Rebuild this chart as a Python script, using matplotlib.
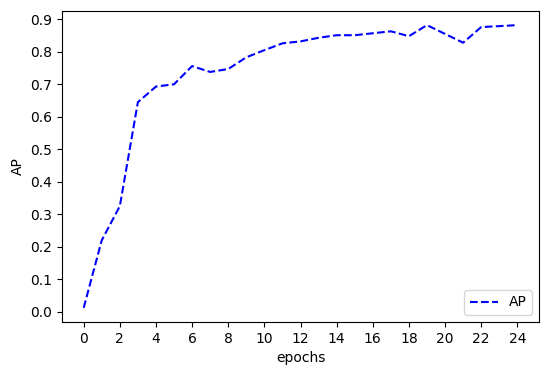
import numpy as np
import matplotlib
matplotlib.use('Agg')
import matplotlib.pyplot as plt

# AP per epoch
epochs = list(range(25))
ap = [0.012, 0.22, 0.325, 0.645, 0.693, 0.70, 0.756, 0.738, 0.747, 0.783,
      0.805, 0.826, 0.832, 0.843, 0.851, 0.851, 0.857, 0.863, 0.848, 0.882,
      0.855, 0.828, 0.876, 0.879, 0.882]
xticks = list(range(0, 25, 2))

fig = plt.figure(figsize=(5.5, 3.72), dpi=100)
ax = fig.add_axes([62/550, 1 - 322/372, 477/550, 311/372])

ax.plot(epochs, ap, 'b--', label='AP')
ax.set_xticks(xticks)
ax.set_yticks(np.arange(0, 0.91, 0.1))
ax.set_xlabel('epochs')
ax.set_ylabel('AP')
ax.legend(loc='lower right')

fig.savefig('out.png', dpi=100)
